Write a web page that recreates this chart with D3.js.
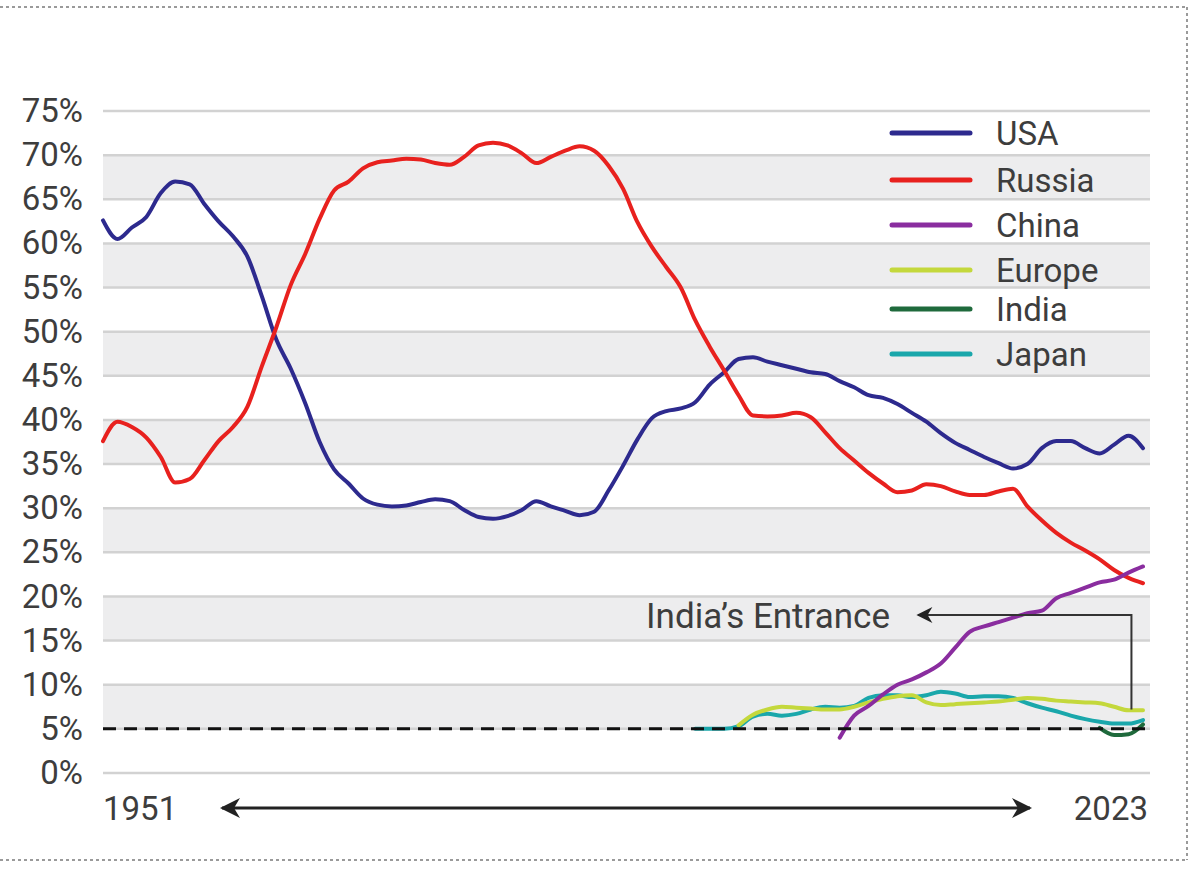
<!DOCTYPE html>
<html>
<head>
<meta charset="utf-8">
<script src="https://cdn.jsdelivr.net/npm/d3@7"></script>
<style>
  html, body { margin: 0; padding: 0; background: #fff; }
  svg { display: block; }
  text { font-family: Roboto, "Open Sans", sans-serif; fill: #3d3d3d; }
</style>
</head>
<body>
<svg id="chart" width="1200" height="886"></svg>
<script>
// ---- data ----
const usaYears = d3.range(1951, 2024);
const usaValues = [62.6, 60.5, 61.8, 63.0, 65.7, 67.0, 66.7, 64.5, 62.5, 60.8,
  58.5, 54.0, 49.1, 45.8, 41.9, 37.5, 34.4, 32.8, 31.1, 30.4,
  30.2, 30.3, 30.7, 31.0, 30.8, 29.8, 29.0, 28.8, 29.1, 29.8,
  30.8, 30.2, 29.7, 29.2, 29.6, 32.0, 34.8, 37.8, 40.2, 41.0,
  41.3, 42.0, 44.0, 45.4, 46.9, 47.1, 46.6, 46.2, 45.8, 45.4,
  45.2, 44.4, 43.7, 42.8, 42.5, 41.8, 40.8, 39.8, 38.5, 37.4,
  36.6, 35.8, 35.1, 34.5, 35.0, 36.8, 37.6, 37.6, 36.8, 36.2,
  37.2, 38.2, 36.8];
const russiaYears = d3.range(1951, 2024);
const russiaValues = [37.6, 39.8, 39.2, 38.0, 35.8, 32.9, 33.3, 35.4, 37.6, 39.2,
  41.5, 46.1, 50.5, 55.3, 58.8, 62.8, 66.0, 67.0, 68.5, 69.2,
  69.4, 69.6, 69.5, 69.1, 68.9, 69.8, 71.1, 71.4, 71.1, 70.2,
  69.1, 69.8, 70.5, 71.0, 70.5, 68.8, 66.2, 62.4, 59.6, 57.3,
  55.0, 51.3, 48.3, 45.6, 42.8, 40.5, 40.4, 40.5, 40.8, 40.3,
  38.6, 36.8, 35.4, 34.0, 32.8, 31.8, 32.0, 32.7, 32.5, 31.9,
  31.5, 31.5, 31.9, 32.2, 30.2, 28.6, 27.2, 26.1, 25.2, 24.2,
  23.0, 22.1, 21.5];
const chinaYears = d3.range(2002, 2024);
const chinaValues = [4.0, 6.5, 7.6, 8.9, 10.0, 10.6, 11.4, 12.4, 14.2, 16.0,
  16.6, 17.1, 17.6, 18.1, 18.4, 19.8, 20.4, 21.0, 21.6, 21.9, 22.7, 23.4];
const europeYears = d3.range(1995, 2024);
const europeValues = [5.4, 6.6, 7.2, 7.5, 7.4, 7.3, 7.2, 7.2, 7.5, 8.0,
  8.4, 8.7, 8.8, 8.0, 7.7, 7.8, 7.9, 8.0, 8.1, 8.3,
  8.5, 8.4, 8.2, 8.1, 8.0, 7.9, 7.5, 7.1, 7.1];
const indiaYears = d3.range(2020, 2024);
const indiaValues = [5.1, 4.3, 4.4, 5.5];
const japanYears = d3.range(1992, 2024);
const japanValues = [5.0, 5.0, 5.0, 5.3, 6.4, 6.7, 6.5, 6.7, 7.2, 7.5,
  7.4, 7.6, 8.5, 8.8, 8.8, 8.6, 8.8, 9.2, 9.0, 8.6,
  8.7, 8.7, 8.5, 7.9, 7.4, 7.0, 6.5, 6.1, 5.8, 5.6, 5.6, 6.0];

const seriesNames = ["USA", "Russia", "China", "Europe", "India", "Japan"];
const seriesColors = ["#2d2a8e", "#e8211e", "#8a2d9f", "#c4d83c", "#1f6a3c", "#1aa7ab"];
const tickValues = d3.range(0, 80, 5);
const tickLabels = tickValues.map(v => v + "%");
const thresholdValue = 5;
const startLabel = "1951", endLabel = "2023";
const annotationText = "India\u2019s Entrance";

// ---- setup ----
const svg = d3.select("#chart");
const x = d3.scaleLinear().domain([1951, 2023]).range([103, 1143]);
const y = d3.scaleLinear().domain([0, 75]).range([773, 111]);
const gridX0 = 103, gridX1 = 1150;

// dotted frame
const frame = svg.append("g").attr("stroke", "#9a9a9a").attr("stroke-width", 2)
  .attr("stroke-dasharray", "3,3").attr("fill", "none");
frame.append("line").attr("x1", 0).attr("x2", 1187).attr("y1", 7).attr("y2", 7);
frame.append("line").attr("x1", 1187).attr("x2", 1187).attr("y1", 7).attr("y2", 860);
frame.append("line").attr("x1", 0).attr("x2", 1187).attr("y1", 860).attr("y2", 860);

// bands
const bandStarts = [5, 15, 25, 35, 45, 55, 65];
svg.append("g").selectAll("rect").data(bandStarts).join("rect")
  .attr("x", gridX0).attr("width", gridX1 - gridX0)
  .attr("y", d => y(d + 5)).attr("height", d => y(d) - y(d + 5))
  .attr("fill", "#ededee");

// gridlines
svg.append("g").selectAll("line").data(tickValues).join("line")
  .attr("x1", gridX0).attr("x2", gridX1)
  .attr("y1", d => y(d)).attr("y2", d => y(d))
  .attr("stroke", "#d2d2d2").attr("stroke-width", 2.5);

// y axis labels
const yAxis = d3.axisLeft(y).tickValues(tickValues)
  .tickFormat((d, i) => tickLabels[i]).tickSize(0).tickPadding(20);
const yg = svg.append("g").attr("transform", `translate(${gridX0},0)`).call(yAxis);
yg.select(".domain").remove();
yg.selectAll("text").style("font-family", "Roboto, sans-serif")
  .style("font-size", "33px").attr("fill", "#3d3d3d");

// lines
const line = d3.line().x(d => x(d[0])).y(d => y(d[1])).curve(d3.curveMonotoneX);
function zip(a, b) { return a.map((v, i) => [v, b[i]]); }
const seriesData = {
  USA: zip(usaYears, usaValues),
  Russia: zip(russiaYears, russiaValues),
  China: zip(chinaYears, chinaValues),
  Europe: zip(europeYears, europeValues),
  India: zip(indiaYears, indiaValues),
  Japan: zip(japanYears, japanValues)
};
const drawOrder = ["USA", "Russia", "Japan", "Europe", "India", "China"];
svg.append("g").selectAll("path").data(drawOrder).join("path")
  .attr("d", n => line(seriesData[n]))
  .attr("fill", "none")
  .attr("stroke", n => seriesColors[seriesNames.indexOf(n)])
  .attr("stroke-width", 4)
  .attr("stroke-linejoin", "round").attr("stroke-linecap", "round");

// 5% dashed threshold
svg.append("line")
  .attr("x1", gridX0).attr("x2", gridX1)
  .attr("y1", y(thresholdValue)).attr("y2", y(thresholdValue))
  .attr("stroke", "#111").attr("stroke-width", 3).attr("stroke-dasharray", "13,8");

// legend
const legend = svg.append("g");
const legendY = [133, 180, 225, 270, 309, 354];
seriesNames.forEach((n, i) => {
  legend.append("line").attr("x1", 892).attr("x2", 970)
    .attr("y1", legendY[i]).attr("y2", legendY[i])
    .attr("stroke", seriesColors[i]).attr("stroke-width", 5).attr("stroke-linecap", "round");
  legend.append("text").attr("x", 996).attr("y", legendY[i]).attr("dy", "0.36em")
    .style("font-size", "33px").text(n);
});

// arrow markers
const defs = svg.append("defs");
defs.append("marker").attr("id", "ah").attr("viewBox", "0 0 10 10")
  .attr("refX", 9).attr("refY", 5).attr("markerWidth", 24).attr("markerHeight", 20)
  .attr("markerUnits", "userSpaceOnUse").attr("orient", "auto-start-reverse")
  .append("path").attr("d", "M0,0 L10,5 L0,10 L3,5 Z").attr("fill", "#222");
defs.append("marker").attr("id", "ah2").attr("viewBox", "0 0 10 10")
  .attr("refX", 9).attr("refY", 5).attr("markerWidth", 22).attr("markerHeight", 16)
  .attr("markerUnits", "userSpaceOnUse").attr("orient", "auto")
  .append("path").attr("d", "M0,0 L10,5 L0,10 L3,5 Z").attr("fill", "#222");

// annotation
const annY = 615;
svg.append("path")
  .attr("d", `M${x(2022.2)},${y(7.2)} L${x(2022.2)},${annY} L918,${annY}`)
  .attr("fill", "none").attr("stroke", "#333").attr("stroke-width", 2)
  .attr("marker-end", "url(#ah2)");
svg.append("text").attr("x", 890).attr("y", annY).attr("dy", "0.36em")
  .attr("text-anchor", "end").style("font-size", "35px").text(annotationText);

// bottom time arrow
svg.append("line").attr("x1", 222).attr("x2", 1030).attr("y1", 808).attr("y2", 808)
  .attr("stroke", "#222").attr("stroke-width", 3)
  .attr("marker-start", "url(#ah)").attr("marker-end", "url(#ah)");
svg.append("text").attr("x", 103).attr("y", 808).attr("dy", "0.36em")
  .style("font-size", "33px").text(startLabel);
svg.append("text").attr("x", 1148).attr("y", 808).attr("dy", "0.36em")
  .attr("text-anchor", "end").style("font-size", "33px").text(endLabel);
</script>
</body>
</html>
